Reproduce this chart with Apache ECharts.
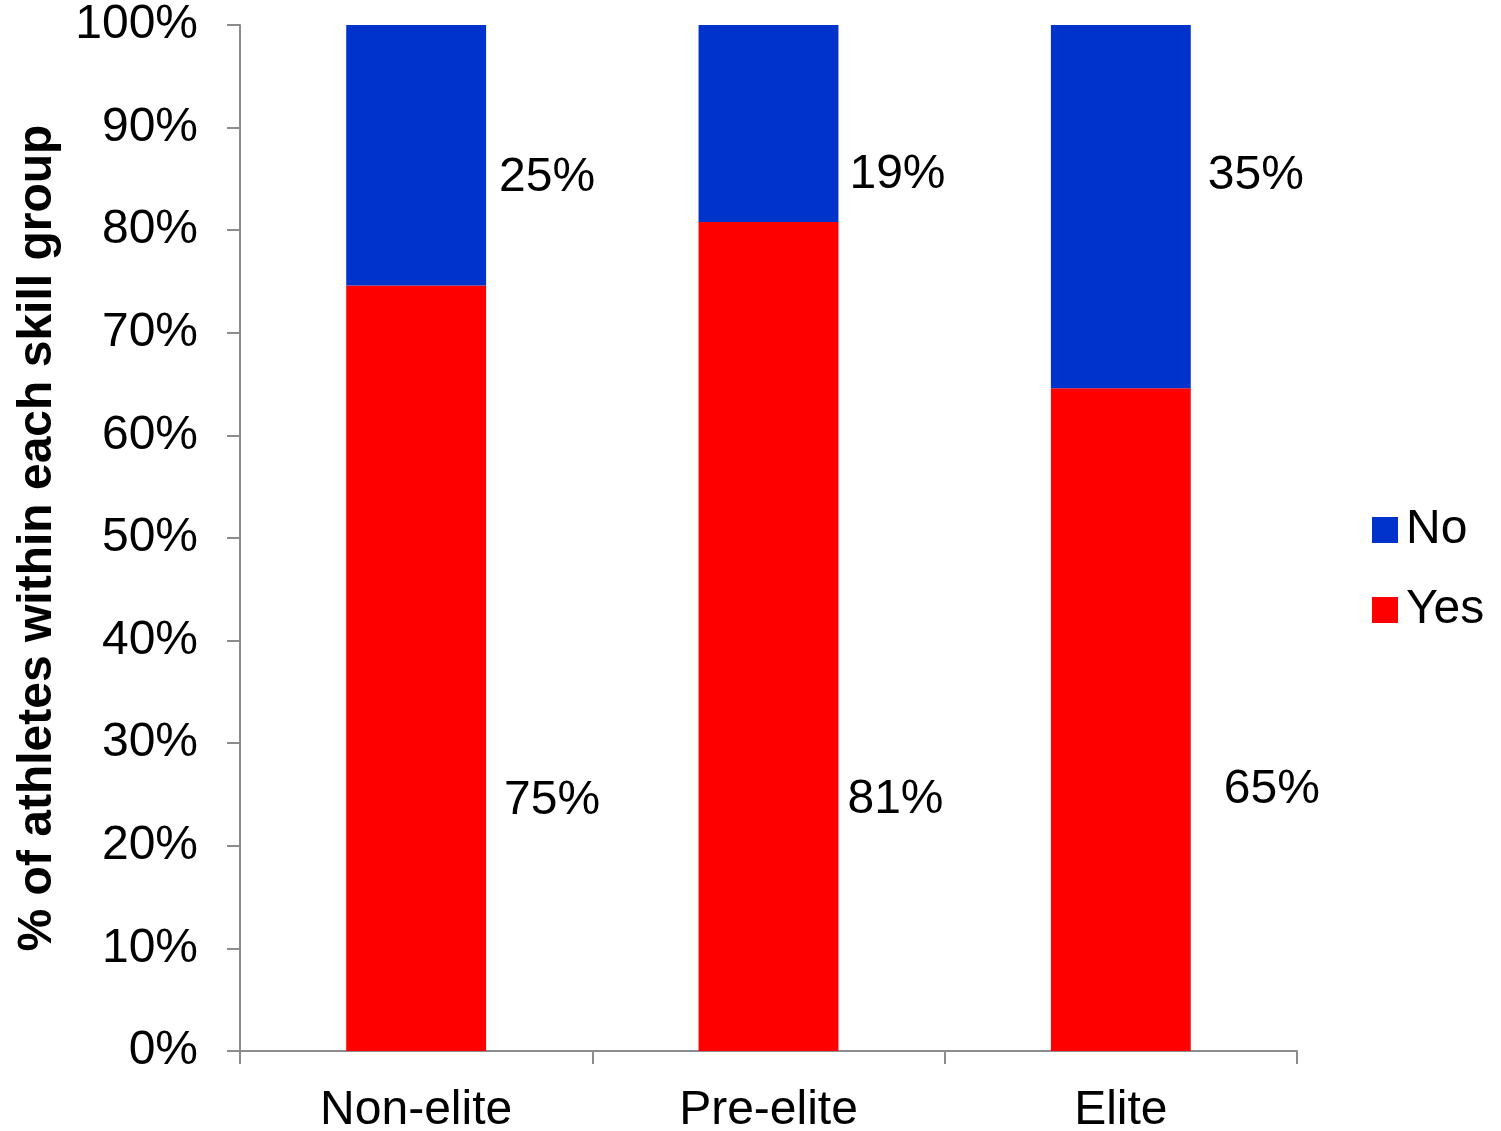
<!DOCTYPE html>
<html>
<head>
<meta charset="utf-8">
<script src="https://cdn.jsdelivr.net/npm/echarts@6/dist/echarts.min.js"></script>
<style>
html,body{margin:0;padding:0;background:#fff;}
#chart{width:1501px;height:1131px;}
</style>
</head>
<body>
<div id="chart"></div>
<script>
// ---- data ----
var categories = ['Non-elite', 'Pre-elite', 'Elite'];
var yesValues = [74.6, 80.8, 64.6];
var noValues = [25.4, 19.2, 35.4];
var yTicks = [0, 10, 20, 30, 40, 50, 60, 70, 80, 90, 100];

// ---- label placement (style only) ----
var yesLabelOffsets = [[18, 132], [9, 163], [33, 70]];
var noLabelOffsets = [[13, 22], [11, 51], [17, -31]];

var FONT = "'Liberation Sans', Arial, sans-serif";
var AXIS_COLOR = '#8c8c8c';
var FS = 48;

function buildData(values, offsets) {
  return values.map(function (v, i) {
    return {
      value: v,
      label: { offset: offsets[i] }
    };
  });
}

var labelStyle = {
  show: true,
  position: 'right',
  distance: 0,
  color: '#000',
  fontSize: FS,
  fontFamily: FONT,
  formatter: function (p) { return Math.round(p.value) + '%'; }
};

var chart = echarts.init(document.getElementById('chart'), null, { renderer: 'canvas' });
chart.setOption({
  animation: false,
  backgroundColor: '#fff',
  grid: { left: 240, right: 204, top: 25, bottom: 80, containLabel: false, outerBoundsMode: 'none' },
  legend: {
    orient: 'vertical',
    left: 1372,
    top: 506,
    padding: 0,
    data: ['No', 'Yes'],
    icon: 'rect',
    itemWidth: 26,
    itemHeight: 26,
    itemGap: 32,
    textStyle: { fontSize: FS, fontFamily: FONT, color: '#000', padding: [0, 0, 0, 3] }
  },
  xAxis: {
    type: 'category',
    data: categories,
    axisLine: { show: true, lineStyle: { color: AXIS_COLOR, width: 2 } },
    axisTick: { show: true, alignWithLabel: false, length: 13, lineStyle: { color: AXIS_COLOR, width: 2 } },
    axisLabel: { color: '#000', fontSize: FS, fontFamily: FONT, margin: 36 },
    splitLine: { show: false }
  },
  yAxis: {
    type: 'value',
    min: yTicks[0],
    max: yTicks[yTicks.length - 1],
    interval: yTicks[1] - yTicks[0],
    name: '% of athletes within each skill group',
    nameLocation: 'middle',
    nameRotate: 90,
    nameGap: 178,
    nameTextStyle: { fontSize: FS, fontWeight: 'bold', fontFamily: FONT, color: '#000' },
    axisLine: { show: true, lineStyle: { color: AXIS_COLOR, width: 2 } },
    axisTick: { show: true, inside: false, length: 13, lineStyle: { color: AXIS_COLOR, width: 2 } },
    axisLabel: { color: '#000', fontSize: FS, fontFamily: FONT, margin: 42, formatter: '{value}%' },
    splitLine: { show: false }
  },
  series: [
    {
      name: 'Yes',
      type: 'bar',
      stack: 'total',
      barWidth: '39.7%',
      itemStyle: { color: '#FF0000' },
      label: labelStyle,
      data: buildData(yesValues, yesLabelOffsets)
    },
    {
      name: 'No',
      type: 'bar',
      stack: 'total',
      barWidth: '39.7%',
      itemStyle: { color: '#0033CC' },
      label: labelStyle,
      data: buildData(noValues, noLabelOffsets)
    }
  ]
});
</script>
</body>
</html>
